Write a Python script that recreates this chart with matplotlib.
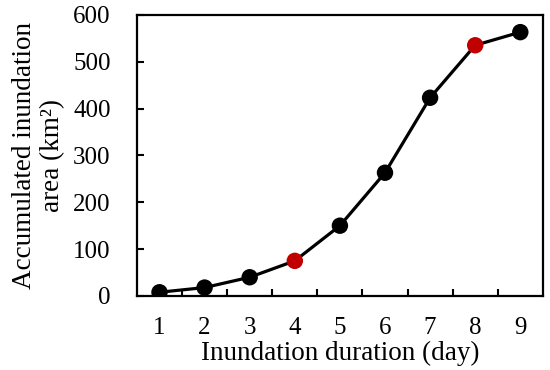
import numpy as np
import matplotlib
matplotlib.use("Agg")
import matplotlib.pyplot as plt

plt.rcParams['font.family'] = ['Liberation Serif', 'DejaVu Serif']

# Data
days = [1, 2, 3, 4, 5, 6, 7, 8, 9]
area = [8, 18, 40, 75, 150, 263, 423, 535, 563]
highlight = [4, 8]  # days marked in red

fig = plt.figure(figsize=(5.5, 3.7), dpi=100)
ax = fig.add_axes([0.249, 0.2, 0.738, 0.76])

ax.plot(days, area, color='black', linewidth=2.3, zorder=2)
colors = ['#C00000' if d in highlight else 'black' for d in days]
ax.scatter(days, area, s=140, c=colors, zorder=3, linewidths=0)

ax.set_xlim(0.5, 9.5)
ax.set_ylim(0, 600)
ax.set_yticks(np.arange(0, 601, 100))
ax.set_xticks(days)
ax.set_xticks(np.arange(1.5, 9.5, 1), minor=True)
ax.tick_params(axis='x', which='major', length=0, labelsize=18, pad=15)
ax.tick_params(axis='x', which='minor', direction='in', length=5, width=1.5)
ax.tick_params(axis='y', direction='in', length=5, width=1.5, labelsize=18, pad=19)

for s in ax.spines.values():
    s.set_linewidth(1.6)

ax.set_xlabel('Inundation duration (day)', fontsize=19.5, labelpad=1.5)
ax.set_ylabel('Accumulated inundation\narea (km²)', fontsize=19.5, labelpad=6, linespacing=1.15)

fig.savefig('out.png', dpi=100)
